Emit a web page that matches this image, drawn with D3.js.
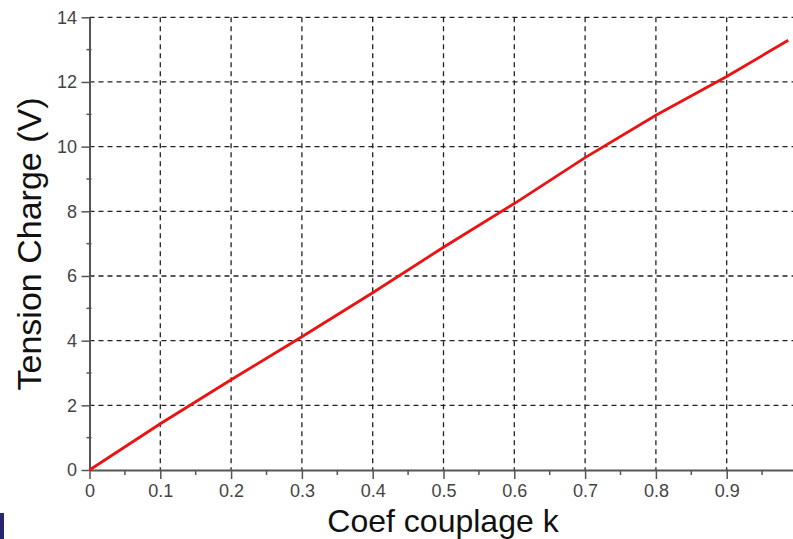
<!DOCTYPE html>
<html>
<head>
<meta charset="utf-8">
<script src="https://cdn.jsdelivr.net/npm/d3@7"></script>
<style>
  body { margin: 0; background: #fff; }
  svg { display: block; font-family: "Liberation Sans", Arial, sans-serif; }
</style>
</head>
<body>
<svg id="chart" width="793" height="539"></svg>
<script>
// values
const couplage = [0, 0.1, 0.2, 0.3, 0.4, 0.5, 0.6, 0.7, 0.8, 0.9, 0.987];
const tension = [0, 1.43, 2.79, 4.12, 5.48, 6.89, 8.24, 9.66, 10.97, 12.17, 13.29];
const xTicks = [0, 0.1, 0.2, 0.3, 0.4, 0.5, 0.6, 0.7, 0.8, 0.9];
const yTicks = [0, 2, 4, 6, 8, 10, 12, 14];
const xMinor = [0.05, 0.15, 0.25, 0.35, 0.45, 0.55, 0.65, 0.75, 0.85, 0.95];
const yMinor = [1, 3, 5, 7, 9, 11, 13];

const svg = d3.select("#chart");
const plotLeft = 89.5, plotTop = 17.3, plotBottom = 470;

const x = d3.scaleLinear().domain([0, 1]).range([plotLeft, plotLeft + 708]);
const y = d3.scaleLinear().domain([0, 14]).range([plotBottom, plotTop]);

const axisColor = "#555";

// grid
const grid = svg.append("g")
  .attr("stroke", "#222")
  .attr("stroke-width", 1.3)
  .attr("stroke-dasharray", "5,4");

grid.selectAll(".gx").data(xTicks.slice(1)).enter().append("line")
  .attr("x1", d => x(d)).attr("x2", d => x(d))
  .attr("y1", plotTop).attr("y2", plotBottom);

grid.selectAll(".gy").data(yTicks.slice(1)).enter().append("line")
  .attr("x1", plotLeft).attr("x2", 793)
  .attr("y1", d => y(d)).attr("y2", d => y(d));

// x axis
const xAxis = svg.append("g")
  .attr("transform", `translate(0,${plotBottom})`)
  .call(d3.axisBottom(x).tickValues(xTicks).tickSize(9).tickSizeOuter(0)
    .tickFormat(d => d === 0 ? "0" : d3.format(".1f")(d)));
xAxis.append("g").selectAll("line").data(xMinor).enter().append("line")
  .attr("x1", d => x(d)).attr("x2", d => x(d))
  .attr("y1", 0).attr("y2", 5);

// y axis
const yAxis = svg.append("g")
  .attr("transform", `translate(${plotLeft},0)`)
  .call(d3.axisLeft(y).tickValues(yTicks).tickSize(8).tickSizeOuter(0).tickFormat(d3.format("d")));
yAxis.append("g").selectAll("line").data(yMinor).enter().append("line")
  .attr("x1", -3).attr("x2", 2)
  .attr("y1", d => y(d)).attr("y2", d => y(d));

svg.selectAll(".domain").attr("stroke", axisColor).attr("stroke-width", 2);
xAxis.selectAll("line").attr("stroke", axisColor).attr("stroke-width", 1.5);
yAxis.selectAll("line").attr("stroke", axisColor).attr("stroke-width", 1.5);

xAxis.selectAll(".tick text")
  .attr("y", 14.5)
  .attr("font-size", 18)
  .attr("fill", "#444");
yAxis.selectAll(".tick text")
  .attr("x", -12.5)
  .attr("font-size", 18)
  .attr("fill", "#444");

// the curve
svg.append("path")
  .datum(couplage.map((k, i) => [k, tension[i]]))
  .attr("fill", "none")
  .attr("stroke", "#ee1111")
  .attr("stroke-width", 2.8)
  .attr("d", d3.line().x(d => x(d[0])).y(d => y(d[1])));

// titles
svg.append("text")
  .attr("x", 443).attr("y", 532)
  .attr("text-anchor", "middle")
  .attr("font-size", 32)
  .attr("fill", "#111")
  .text("Coef couplage k");

svg.append("text")
  .attr("transform", "translate(41,244) rotate(-90)")
  .attr("text-anchor", "middle")
  .attr("font-size", 34)
  .attr("fill", "#111")
  .text("Tension Charge (V)");

// small dark block in the corner
svg.append("rect")
  .attr("x", 0).attr("y", 513).attr("width", 4).attr("height", 26)
  .attr("fill", "#262673");
</script>
</body>
</html>
